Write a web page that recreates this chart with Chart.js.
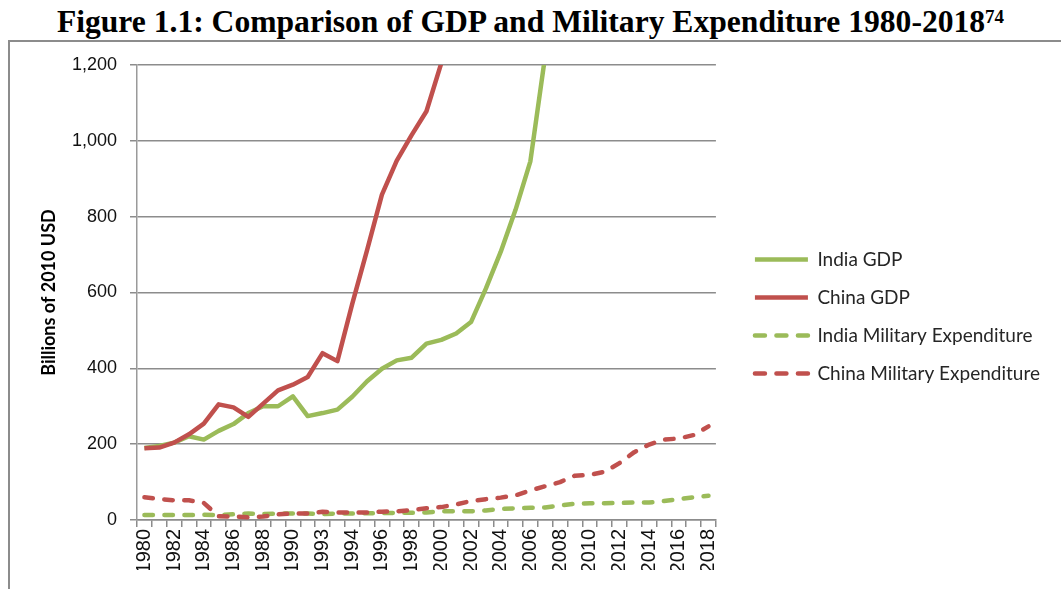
<!DOCTYPE html>
<html>
<head>
<meta charset="utf-8">
<script src="https://cdn.jsdelivr.net/npm/chart.js@4/dist/chart.umd.min.js"></script>
<style>
  html, body { margin: 0; padding: 0; background: #fff; width: 1061px; height: 589px; overflow: hidden; }
  #heading {
    position: absolute; left: 0; top: 4px; width: 1061px; text-align: center;
    font-family: "Liberation Serif", "Times New Roman", serif; font-weight: bold;
    font-size: 31.6px; line-height: 36px; color: #000; white-space: nowrap;
  }
  #heading sup { font-size: 19px; line-height: 0; vertical-align: 9px; }
  #frame {
    position: absolute; left: 8px; top: 40px; width: 1100px; height: 600px;
    border-left: 2px solid #8c8c8c; border-top: 2px solid #8c8c8c;
  }
  #wrap { position: absolute; left: 0; top: 0; width: 1061px; height: 589px; }
</style>
</head>
<body>
<div id="heading">Figure 1.1: Comparison of GDP and Military Expenditure 1980-2018<sup>74</sup></div>
<div id="frame"></div>
<div id="wrap"><canvas id="chart"></canvas></div>
<script>
// Category labels along the x axis (the 13th entry is printed as 1993 in the source table)
const years = ['1980','1981','1982','1983','1984','1985','1986','1987','1988','1989',
               '1990','1991','1993','1993','1994','1995','1996','1997','1998','1999',
               '2000','2001','2002','2003','2004','2005','2006','2007','2008','2009',
               '2010','2011','2012','2013','2014','2015','2016','2017','2018'];

// Billions of 2010 USD; GDP values past the 1,200 axis ceiling are left empty
const indiaGDP = [190, 195, 204, 221, 212, 235, 253, 282, 300, 300,
                  326, 274, 282, 291, 325, 366, 399, 421, 428, 465,
                  475, 492, 522, 610, 707, 818, 946, 1225, null, null,
                  null, null, null, null, null, null, null, null, null];
const chinaGDP = [189, 191, 204, 226, 254, 305, 297, 272, 307, 342,
                  357, 377, 440, 419, 570, 712, 858, 948, 1015, 1078,
                  1205, null, null, null, null, null, null, null, null, null,
                  null, null, null, null, null, null, null, null, null];
const indiaMilitary = [13, 13, 13, 13, 14, 13, 15, 17, 16, 17,
                       17, 17, 16, 17, 17, 18, 18, 19, 19, 20,
                       23, 23, 23, 25, 29, 31, 32, 33, 38, 43,
                       44, 44, 45, 46, 46, 50, 55, 60, 64];
const chinaMilitary = [60, 55, 52, 52, 45, 10, 9, 7, 9, 15,
                       17, 17, 22, 20, 20, 20, 22, 23, 26, 31,
                       34, 41, 50, 55, 59, 65, 78, 89, 100, 117,
                       119, 127, 150, 179, 199, 212, 215, 224, 247];

const yTickValues = [0, 200, 400, 600, 800, 1000, 1200];

const GREEN = '#9bbb59';
const RED = '#c0504d';
const AXIS_GREY = '#8c8c8c';
const DASH = [8.5, 11.5];
const LEGEND_DASH = [10, 11.5];

// Shift the legend a little away from the plot area
const legendOffset = {
  id: 'legendOffset',
  afterLayout(chart) {
    const lg = chart.legend;
    if (!lg) return;
    lg.left += 20; lg.right += 20;
    lg.top -= 1; lg.bottom -= 1;
  }
};

function lineSeries(label, data, color, dashed, order) {
  return {
    label, data, order,
    borderColor: color, backgroundColor: color,
    borderWidth: 4.5,
    borderDash: dashed ? DASH : [],
    borderCapStyle: dashed ? 'round' : 'butt',
    borderJoinStyle: 'round',
    pointRadius: 0, pointHoverRadius: 0,
    tension: 0, spanGaps: false, fill: false,
    pointStyle: 'line'
  };
}

// Legend samples drawn as short line strokes carrying each series' dash style
function legendItems(chart) {
  const items = Chart.defaults.plugins.legend.labels.generateLabels(chart);
  items.forEach(item => {
    const ds = chart.data.datasets[item.datasetIndex];
    const dashed = ds.borderDash && ds.borderDash.length > 0;
    item.pointStyle = 'line';
    item.lineWidth = ds.borderWidth;
    item.strokeStyle = ds.borderColor;
    item.lineDash = dashed ? LEGEND_DASH : [];
    item.lineCap = ds.borderCapStyle;
  });
  return items;
}

new Chart(document.getElementById('chart'), {
  type: 'line',
  data: {
    labels: years,
    datasets: [
      lineSeries('India GDP', indiaGDP, GREEN, false, 2),
      lineSeries('China GDP', chinaGDP, RED, false, 0),
      lineSeries('India Military Expenditure', indiaMilitary, GREEN, true, 3),
      lineSeries('China Military Expenditure', chinaMilitary, RED, true, 1)
    ]
  },
  options: {
    responsive: true,
    maintainAspectRatio: false,
    animation: false,
    events: [],
    layout: { padding: { left: 38, top: 65, bottom: 19, right: 31 } },
    plugins: {
      title: { display: false },
      tooltip: { enabled: false },
      legend: {
        position: 'right',
        align: 'center',
        maxWidth: 340,
        labels: {
          usePointStyle: true,
          pointStyleWidth: 53,
          padding: 19,
          color: '#262626',
          font: { family: 'Lato, "Open Sans", sans-serif', size: 19 },
          generateLabels: legendItems,
          sort: (a, b) => a.datasetIndex - b.datasetIndex
        }
      }
    },
    scales: {
      x: {
        type: 'category',
        offset: true,
        afterFit(scale) { scale.height = 50; },
        grid: {
          display: true, offset: true, drawOnChartArea: false, drawTicks: true,
          tickLength: 7, color: AXIS_GREY, lineWidth: 1.5
        },
        border: { display: true, color: AXIS_GREY, width: 1.5 },
        ticks: {
          autoSkip: false, maxRotation: 90, minRotation: 90, padding: 2,
          color: '#111',
          font: { family: '"Liberation Sans", Arial, sans-serif', size: 20 },
          callback(value, index) { return index % 2 === 0 ? this.getLabelForValue(value) : ''; }
        }
      },
      y: {
        min: 0, max: 1200,
        afterFit(scale) { scale.width = 99; },
        afterBuildTicks(scale) { scale.ticks = yTickValues.map(v => ({ value: v })); },
        grid: { color: AXIS_GREY, lineWidth: 1.5, drawTicks: true, tickLength: 7 },
        border: { display: true, color: '#9a9a9a', width: 1.5 },
        ticks: {
          padding: 13, color: '#111',
          font: { family: '"Liberation Sans", Arial, sans-serif', size: 18 },
          callback: (v) => v.toLocaleString('en-US')
        },
        title: {
          display: true, text: 'Billions of 2010 USD', color: '#000',
          padding: { top: 0, bottom: 0 },
          font: { family: 'Lato, "Open Sans", sans-serif', size: 18, weight: 'bold' }
        }
      }
    }
  },
  plugins: [legendOffset]
});
</script>
</body>
</html>
